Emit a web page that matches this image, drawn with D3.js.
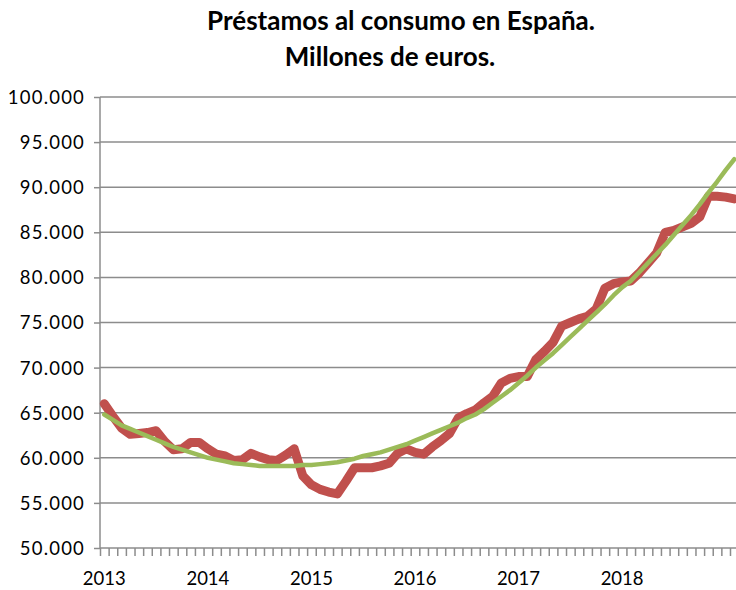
<!DOCTYPE html>
<html lang="es">
<head>
<meta charset="utf-8">
<title>Préstamos al consumo en España</title>
<script src="https://d3js.org/d3.v7.min.js"></script>
<style>
  body { margin: 0; background: #fff; }
  svg text { font-family: Lato, "Open Sans", Arial, sans-serif; fill: #000; }
  .title { font-size: 26px; font-weight: bold; }
  .axis text { font-size: 18.5px; }
  .yaxis text { letter-spacing: 1.2px; }
</style>
</head>
<body>
<div id="chart"></div>
<script>
// year labels, one per 12 monthly categories
var years = ["2013", "2014", "2015", "2016", "2017", "2018"]

// monthly consumer loans (1 = 1.000 M€), Jan 2013 onwards
var prestamos = [
  66.0, 64.6, 63.3, 62.6, 62.7, 62.8, 63.0, 61.8, 60.9, 61.0, 61.7, 61.7,
  61.0, 60.4, 60.2, 59.7, 59.8, 60.5, 60.1, 59.8, 59.7, 60.3, 61.0, 58.0,
  57.0, 56.5, 56.2, 56.0, 57.4, 58.9, 58.9, 58.9, 59.1, 59.4, 60.5, 61.0,
  60.6, 60.4, 61.2, 61.9, 62.7, 64.4, 64.9, 65.3, 66.1, 66.8, 68.3, 68.8,
  69.0, 69.0, 70.9, 71.8, 72.8, 74.6, 75.0, 75.4, 75.7, 76.5, 78.8, 79.3,
  79.5, 79.6, 80.5, 81.6, 82.7, 85.0, 85.2, 85.6, 86.0, 86.7, 89.0, 89.0,
  88.9, 88.7
]

// polynomial trend line
var tendencia = [
  64.8, 64.2, 63.6, 63.2, 62.8, 62.4, 62.0, 61.6, 61.2, 60.9, 60.6, 60.3,
  60.0, 59.8, 59.6, 59.4, 59.3, 59.2, 59.1, 59.1, 59.1, 59.1, 59.1, 59.2,
  59.2, 59.3, 59.4, 59.5, 59.7, 59.9, 60.2, 60.4, 60.6, 60.9, 61.2, 61.5,
  61.9, 62.3, 62.7, 63.1, 63.5, 63.9, 64.4, 64.8, 65.4, 66.1, 66.8, 67.5,
  68.3, 69.1, 70.0, 70.8, 71.6, 72.5, 73.4, 74.3, 75.2, 76.1, 77.0, 78.0,
  78.9, 79.6, 80.6, 81.6, 82.6, 83.6, 84.7, 85.8, 86.9, 88.1, 89.4, 90.6,
  91.9, 93.1
]

var yTicks = [50, 55, 60, 65, 70, 75, 80, 85, 90, 95, 100]

var w = 736
var h = 590
var plotLeft = 100
var plotTop = 97
var plotBottom = 548
var nCat = 76          // categories on the axis (chart runs past the picture edge)
var step = 8.63
var grey = "#8c8c8c"

var svg = d3.select("#chart")
  .append("svg")
  .attr("width", w)
  .attr("height", h)

var xScale = d3.scaleLinear()
  .domain([0, nCat])
  .range([plotLeft, plotLeft + nCat * step])

var yScale = d3.scaleLinear()
  .domain([50, 100])
  .range([plotBottom, plotTop])

// title
svg.append("text")
  .attr("class", "title")
  .attr("x", 401)
  .attr("y", 30)
  .attr("text-anchor", "middle")
  .text("Préstamos al consumo en España.")
svg.append("text")
  .attr("class", "title")
  .attr("x", 390)
  .attr("y", 66)
  .attr("text-anchor", "middle")
  .text("Millones de euros.")

// gridlines
svg.append("g")
  .selectAll("line")
  .data(yTicks.slice(1))
  .enter()
  .append("line")
  .attr("x1", plotLeft)
  .attr("x2", w)
  .attr("y1", function(d) { return yScale(d) })
  .attr("y2", function(d) { return yScale(d) })
  .style("stroke", grey)
  .style("stroke-width", 1.5)

// y axis
var yAxis = d3.axisLeft(yScale)
  .tickValues(yTicks)
  .tickSize(6)
  .tickPadding(9)
  .tickFormat(function(d) { return d3.format(".3f")(d) })

var gy = svg.append("g")
  .attr("class", "axis yaxis")
  .attr("transform", "translate(" + plotLeft + ",0)")
  .call(yAxis)
gy.select(".domain").remove()
gy.selectAll("line").style("stroke", grey).style("stroke-width", 1.5)
gy.append("line")
  .attr("y1", plotTop).attr("y2", plotBottom)
  .style("stroke", grey).style("stroke-width", 1.5)
gy.selectAll("text").attr("dy", "0.35em")

// x axis: month boundaries as ticks, year labels at category centres
var xAxis = d3.axisBottom(xScale)
  .tickValues(d3.range(0, nCat + 1))
  .tickSize(8)
  .tickFormat("")

var gx = svg.append("g")
  .attr("class", "axis")
  .attr("transform", "translate(0," + plotBottom + ")")
  .call(xAxis)
gx.select(".domain")
  .attr("d", "M" + plotLeft + ",0H" + (plotLeft + nCat * step))
  .style("stroke", grey).style("stroke-width", 1.5)
gx.selectAll(".tick line").style("stroke", grey).style("stroke-width", 1.5)

gx.selectAll(".yearlabel")
  .data(years)
  .enter()
  .append("text")
  .attr("class", "yearlabel")
  .attr("x", function(d, i) { return xScale(i * 12 + 0.5) })
  .attr("y", 37)
  .attr("text-anchor", "middle")
  .text(function(d) { return d })

// lines
var line = d3.line()
  .x(function(d, i) { return xScale(i + 0.5) })
  .y(function(d) { return yScale(d) })

svg.append("path")
  .datum(prestamos)
  .attr("d", line)
  .style("fill", "none")
  .style("stroke", "#c0504d")
  .style("stroke-width", 9)
  .style("stroke-linejoin", "round")
  .style("stroke-linecap", "round")

svg.append("path")
  .datum(tendencia)
  .attr("d", line)
  .style("fill", "none")
  .style("stroke", "#9bbb59")
  .style("stroke-width", 4.5)
  .style("stroke-linejoin", "round")
  .style("stroke-linecap", "round")
</script>
</body>
</html>
